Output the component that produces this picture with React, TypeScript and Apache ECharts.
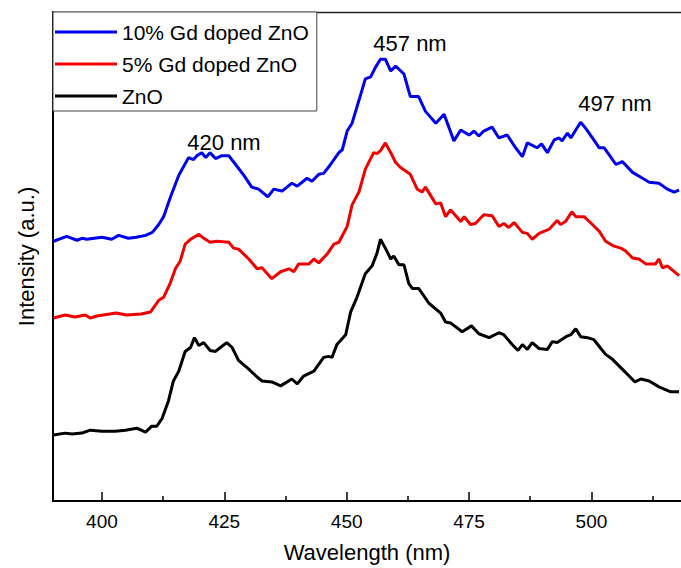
import React, { useEffect, useRef } from "react";
import * as echarts from "echarts";

const FONT = "'Liberation Sans', Arial, Helvetica, sans-serif";

const seriesNames = ["10% Gd doped ZnO", "5% Gd doped ZnO", "ZnO"];
const seriesColors = ["#0000f0", "#f00000", "#000000"];

const majorTicks = [400, 425, 450, 475, 500];
const minorTicks = [412.5, 437.5, 462.5, 487.5, 512.5];

const peakLabels = ["420 nm", "457 nm", "497 nm"];

// 10% Gd doped ZnO
const blueNm = [
  390.1, 392.8, 394.9, 395.9, 396.9, 400.0, 402.0, 403.4, 405.4, 407.0, 408.9, 410.3,
  411.6, 412.6, 414.0, 415.7, 417.7, 418.7, 419.4, 420.4, 421.2, 422.1, 423.2, 424.5,
  425.9, 427.3, 429.0, 430.6, 432.0, 433.9, 435.1, 436.8, 438.8, 439.9, 441.9, 442.9,
  444.3, 445.3, 446.7, 448.4, 449.1, 450.1, 451.1, 452.5, 453.8, 454.9, 455.9, 456.9,
  457.9, 459.0, 460.0, 461.7, 463.0, 464.7, 466.1, 468.2, 469.9, 471.9, 473.3, 475.0,
  476.0, 477.0, 478.0, 479.7, 481.1, 482.8, 484.5, 485.9, 486.9, 488.9, 489.8, 491.0,
  492.4, 493.4, 494.0, 495.1, 495.8, 496.8, 497.8, 498.8, 500.2, 501.6, 502.6, 503.6,
  505.0, 506.3, 508.4, 510.1, 511.8, 513.8, 515.5, 516.9, 517.9,
];
const blueVal = [
  264, 269, 265, 267, 266, 268, 266, 270, 267, 268, 270, 273,
  281, 289, 309, 331, 349, 347, 351, 354, 349, 354, 348, 351,
  351, 342, 331, 319, 317, 309, 317, 315, 323, 320, 328, 325,
  332, 333, 342, 354, 357, 376, 384, 407, 429, 431, 441, 449,
  449, 437, 442, 434, 411, 411, 396, 384, 393, 366, 377, 372,
  376, 371, 376, 380, 369, 372, 359, 350, 364, 359, 363, 354,
  367, 369, 366, 374, 369, 377, 385, 379, 369, 359, 359, 352,
  342, 345, 334, 329, 324, 323, 317, 314, 316,
];

// 5% Gd doped ZnO
const redNm = [
  390.1, 392.5, 394.5, 396.6, 397.6, 399.0, 402.9, 405.0, 408.0, 409.9, 411.6, 412.6,
  414.0, 415.0, 416.0, 417.0, 418.1, 419.8, 420.8, 422.1, 423.5, 425.9, 426.9, 427.9,
  430.0, 431.7, 432.7, 434.7, 436.5, 438.2, 439.2, 440.2, 442.3, 443.3, 444.3, 446.0,
  447.4, 448.4, 450.1, 451.1, 452.5, 453.8, 455.5, 456.2, 456.9, 457.9, 459.0, 460.0,
  461.0, 463.0, 464.4, 465.4, 466.1, 468.2, 469.2, 470.2, 471.2, 473.3, 474.0, 475.3,
  476.3, 478.0, 479.7, 481.1, 482.1, 483.1, 484.2, 485.9, 486.9, 487.9, 489.3, 491.3,
  493.0, 493.7, 494.7, 496.0, 496.8, 498.5, 500.2, 501.6, 502.9, 504.6, 506.0, 507.0,
  508.4, 509.7, 511.1, 513.1, 513.8, 514.5, 515.5, 517.9,
];
const redVal = [
  186, 189, 187, 189, 186, 188, 191, 189, 190, 192, 204, 207,
  222, 236, 244, 261, 266, 271, 267, 263, 264, 263, 257, 256,
  246, 236, 237, 226, 233, 236, 233, 241, 241, 246, 242, 251,
  261, 263, 279, 301, 314, 337, 354, 353, 356, 364, 354, 344,
  339, 332, 317, 314, 319, 302, 303, 289, 296, 284, 289, 281,
  282, 291, 290, 279, 282, 278, 283, 273, 272, 266, 272, 276,
  285, 281, 284, 294, 289, 289, 281, 274, 264, 259, 257, 254,
  247, 246, 241, 241, 246, 237, 239, 229,
];

// ZnO
const blackNm = [
  390.1, 392.5, 393.9, 395.9, 397.6, 400.0, 402.7, 404.8, 407.1, 408.9, 410.2, 411.2,
  412.3, 413.6, 414.6, 415.7, 417.0, 418.1, 418.9, 419.8, 420.8, 422.1, 423.2, 424.2,
  425.5, 426.6, 427.9, 430.0, 431.7, 432.7, 434.7, 436.5, 438.8, 439.9, 441.2, 443.3,
  445.3, 446.3, 447.0, 448.0, 449.8, 450.8, 452.1, 453.8, 455.2, 456.2, 456.9, 457.9,
  459.0, 459.6, 460.7, 461.7, 462.7, 463.4, 464.7, 466.8, 469.2, 470.2, 471.2, 473.6,
  475.5, 477.0, 479.1, 481.1, 482.1, 483.8, 485.0, 485.9, 486.9, 487.9, 489.3, 491.0,
  492.0, 493.0, 494.8, 495.8, 496.8, 497.8, 499.2, 500.5, 501.6, 502.9, 504.3, 506.3,
  507.7, 508.9, 510.1, 511.8, 513.8, 516.2, 517.9,
];
const blackVal = [
  67, 69, 68, 69, 72, 71, 71, 72, 74, 70, 76, 76,
  84, 102, 122, 132, 152, 156, 166, 158, 161, 153, 152, 156,
  161, 156, 143, 134, 126, 122, 121, 117, 124, 119, 127, 132,
  146, 147, 146, 159, 169, 192, 207, 231, 239, 252, 266, 257,
  246, 249, 240, 240, 221, 216, 216, 201, 191, 182, 181, 172,
  178, 170, 166, 171, 169, 159, 153, 159, 154, 161, 155, 154,
  162, 161, 167, 169, 175, 167, 166, 164, 157, 149, 144, 134,
  127, 121, 124, 122, 116, 111, 111,
];

const X_MIN = 390;
const X_MAX = 518.3;

const zip = (xs: number[], ys: number[]) => xs.map((x, i) => [x, ys[i]]);

export default function App() {
  const ref = useRef<HTMLDivElement>(null);

  useEffect(() => {
    if (!ref.current) return;
    const chart = echarts.init(ref.current, null, { renderer: "svg" });
    const seriesData = [zip(blueNm, blueVal), zip(redNm, redVal), zip(blackNm, blackVal)];

    const textLabel = (text: string, x: number, y: number) => ({
      type: "text",
      x,
      y,
      z: 10,
      style: {
        text,
        fontSize: 22,
        fontFamily: FONT,
        fill: "#000",
        align: "center",
        verticalAlign: "middle",
      },
    });

    chart.setOption({
      animation: false,
      backgroundColor: "#ffffff",
      textStyle: { fontFamily: FONT },
      grid: {
        left: 53,
        top: 12,
        right: 0,
        bottom: 59,
        show: false,
      },
      legend: {
        orient: "vertical",
        left: 53,
        top: 12,
        data: seriesNames,
        icon: "rect",
        itemWidth: 62,
        itemHeight: 3,
        itemGap: 10,
        padding: [9, 8, 4, 2],
        borderColor: "#444",
        borderWidth: 1,
        backgroundColor: "#fff",
        textStyle: { fontSize: 21, lineHeight: 22, color: "#000", fontFamily: FONT },
      },
      xAxis: [
        {
          type: "value",
          min: X_MIN,
          max: X_MAX,
          name: "Wavelength (nm)",
          nameLocation: "middle",
          nameGap: 40,
          nameTextStyle: { fontSize: 22, color: "#000", fontFamily: FONT },
          axisLine: { show: true, onZero: false, lineStyle: { color: "#000", width: 2 } },
          axisTick: {
            show: true,
            inside: true,
            length: 9,
            customValues: majorTicks,
            lineStyle: { color: "#000", width: 1.5 },
          },
          axisLabel: {
            show: true,
            customValues: majorTicks,
            fontSize: 19,
            color: "#000",
            margin: 11,
            fontFamily: FONT,
          },
          splitLine: { show: false },
        },
        {
          type: "value",
          min: X_MIN,
          max: X_MAX,
          position: "bottom",
          axisLine: { show: false },
          axisTick: {
            show: true,
            inside: true,
            length: 5,
            customValues: minorTicks,
            lineStyle: { color: "#000", width: 1.5 },
          },
          axisLabel: { show: false },
          splitLine: { show: false },
        },
        {
          type: "value",
          min: X_MIN,
          max: X_MAX,
          position: "top",
          axisLine: { show: true, onZero: false, lineStyle: { color: "#222", width: 1.3 } },
          axisTick: { show: false },
          axisLabel: { show: false },
          splitLine: { show: false },
        },
      ],
      yAxis: {
        type: "value",
        min: 0,
        max: 497,
        name: "Intensity (a.u.)",
        nameLocation: "middle",
        nameGap: 16,
        nameTextStyle: { fontSize: 22, color: "#000", fontFamily: FONT },
        axisLine: { show: true, onZero: false, lineStyle: { color: "#000", width: 2 } },
        axisTick: { show: false },
        axisLabel: { show: false },
        splitLine: { show: false },
      },
      series: seriesNames.map((name, i) => ({
        name,
        type: "line",
        xAxisIndex: 0,
        data: seriesData[i],
        showSymbol: false,
        symbol: "none",
        lineStyle: { color: seriesColors[i], width: 3 },
        itemStyle: { color: seriesColors[i] },
        z: 3 - i,
      })),
      graphic: [
        textLabel(peakLabels[0], 224, 142),
        textLabel(peakLabels[1], 410, 43),
        textLabel(peakLabels[2], 615, 103),
      ],
    });

    return () => chart.dispose();
  }, []);

  return (
    <div
      ref={ref}
      style={{ position: "fixed", left: 0, top: 0, width: 681, height: 568, background: "#fff" }}
    />
  );
}
